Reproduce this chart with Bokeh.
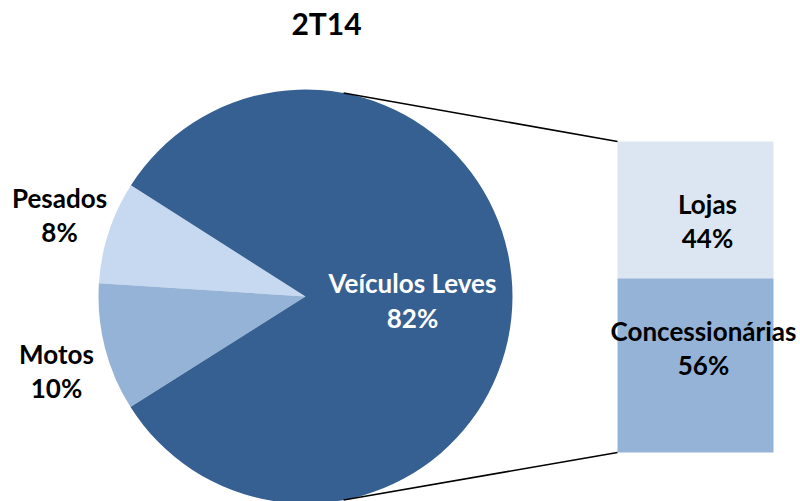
import math
from bokeh.plotting import figure
from bokeh.models import Range1d, ColumnDataSource
from bokeh.core.properties import value
from bokeh.embed import file_html
from bokeh.resources import INLINE

# ---- data ----
title = "2T14"
pie_labels = ["Pesados", "Motos", "Veículos Leves"]
pie_values = [8, 10, 82]
bar_labels = ["Concessionárias", "Lojas"]
bar_values = [56, 44]

# ---- layout / style ----
pie_colors = ["#C6D9F1", "#95B3D7", "#376092"]
bar_colors = ["#95B3D7", "#DCE6F2"]
W, H = 800, 501
cx, cy, R = 305, 205, 207
start_deg = 147.5
bar_x0, bar_x1, bar_y0, bar_y1 = 617, 773, 49, 360
link_deg = 79.4
FONT = "Lato"
FS = "26px"
DY = 10  # text baseline correction

p = figure(width=W, height=H, output_backend="svg", toolbar_location=None,
           x_range=Range1d(0, W), y_range=Range1d(501 - H, 501),
           x_axis_location=None, y_axis_location=None, min_border=0,
           outline_line_color=None)
p.grid.visible = False

# pie
total = sum(pie_values)
starts, ends = [], []
a = math.radians(start_deg)
for v in pie_values:
    starts.append(a)
    a += 2 * math.pi * v / total
    ends.append(a)
src = ColumnDataSource(dict(x=[cx] * 3, y=[cy] * 3, s=starts, e=ends, c=pie_colors))
p.wedge(x="x", y="y", radius=R, start_angle="s", end_angle="e", fill_color="c",
        line_color=None, source=src)

# bar of pie
btot = sum(bar_values)
bot = bar_y0
bsrc = dict(l=[], r=[], b=[], t=[], c=[])
for v, c in zip(bar_values, bar_colors):
    h = (bar_y1 - bar_y0) * v / btot
    bsrc["l"].append(bar_x0); bsrc["r"].append(bar_x1)
    bsrc["b"].append(bot); bsrc["t"].append(bot + h); bsrc["c"].append(c)
    bot += h
p.quad(left="l", right="r", bottom="b", top="t", fill_color="c", line_color=None,
       source=ColumnDataSource(bsrc))

# connector lines
la = math.radians(link_deg)
p.segment(x0=[cx + R * math.cos(la), cx + R * math.cos(-la)],
          y0=[cy + R * math.sin(la), cy + R * math.sin(-la)],
          x1=[bar_x0, bar_x0], y1=[bar_y1, bar_y0],
          line_color="black", line_width=1.5)

def label(x, y, lines, color="black", size=FS, gap=34, dy=DY):
    for i, t in enumerate(lines):
        p.text(x=[x], y=[y - i * gap + dy], text=[t], text_font=value(FONT),
               text_font_style="bold", text_font_size=size, text_color=color,
               text_align="center", text_baseline="alphabetic")

pct = [f"{v}%" for v in pie_values]
bpct = [f"{v}%" for v in bar_values]
label(59, 501 - 207, [pie_labels[0], pct[0]], gap=34)
label(56, 501 - 363, [pie_labels[1], pct[1]])
label(412, 501 - 292, [pie_labels[2], pct[2]], color="white", gap=35)
label(703, 501 - 340, [bar_labels[0], bpct[0]], gap=34)
label(707, 501 - 213, [bar_labels[1], bpct[1]])
label(326, 501 - 33, [title], size="30px", dy=11)

open("out.html", "w").write(file_html(p, INLINE))
